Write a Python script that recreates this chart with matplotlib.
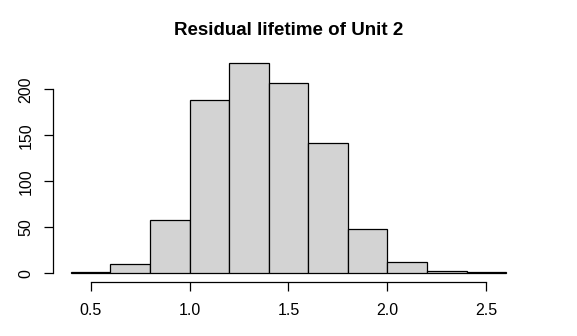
import numpy as np
import matplotlib.pyplot as plt

plt.rcParams['font.family'] = ['Liberation Sans', 'DejaVu Sans']

# 直方图的分箱边界与计数
bin_edges = [0.4, 0.6, 0.8, 1.0, 1.2, 1.4, 1.6, 1.8, 2.0, 2.2, 2.4, 2.6]
counts = [1, 10, 58, 188, 229, 207, 142, 48, 12, 3, 1]
x_ticks = [0.5, 1.0, 1.5, 2.0, 2.5]
y_ticks = [0, 50, 100, 150, 200]

fig = plt.figure(figsize=(5.77, 3.36), dpi=100)
ax = fig.add_axes([0.0927, 0.1616, 0.8146, 0.6771])

edges = np.array(bin_edges)
ax.bar(edges[:-1], counts, width=np.diff(edges), align='edge',
       color='#d3d3d3', edgecolor='black', linewidth=0.9)

# R风格坐标范围：两端各扩展4%
span = edges[-1] - edges[0]
ax.set_xlim(edges[0] - 0.04 * span, edges[-1] + 0.04 * span)
ymax = max(counts)
ax.set_ylim(-0.04 * ymax, ymax * 1.04)

ax.spines['top'].set_visible(False)
ax.spines['right'].set_visible(False)
ax.spines['bottom'].set_bounds(x_ticks[0], x_ticks[-1])
ax.spines['left'].set_bounds(y_ticks[0], y_ticks[-1])
ax.spines['bottom'].set_linewidth(0.9)
ax.spines['left'].set_linewidth(0.9)

ax.set_xticks(x_ticks)
ax.set_xticklabels([str(v) for v in x_ticks])
ax.set_yticks(y_ticks)
ax.set_yticklabels([str(v) for v in y_ticks], rotation=90, va='center')
ax.tick_params(axis='x', length=6.5, width=0.9, labelsize=11.5, pad=9)
ax.tick_params(axis='y', length=6.5, width=0.9, labelsize=11.5, pad=8)

ax.set_title('Residual lifetime of Unit 2', fontsize=13.5, fontweight='bold', pad=13.5)

fig.savefig('out.png', dpi=100)
